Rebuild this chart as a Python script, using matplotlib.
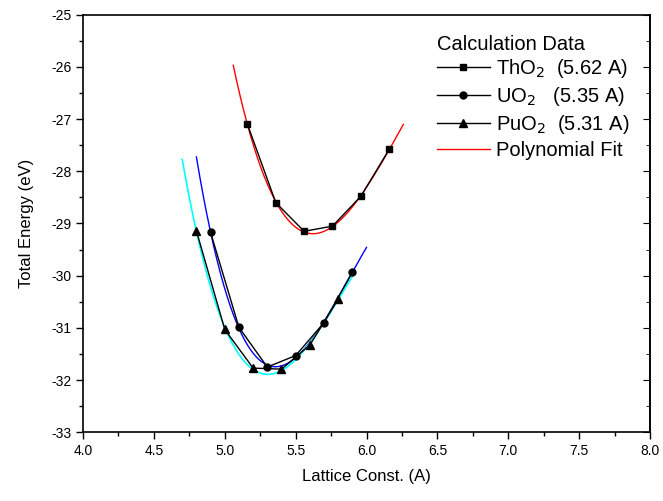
import numpy as np
import matplotlib
matplotlib.use("Agg")
import matplotlib.pyplot as plt
from matplotlib.ticker import MultipleLocator, FormatStrFormatter

plt.rcParams["font.family"] = ["Liberation Sans", "DejaVu Sans"]

# calculated points
tho2_a = [5.16, 5.36, 5.56, 5.76, 5.96, 6.16]
tho2_e = [-27.10, -28.60, -29.15, -29.05, -28.48, -27.58]
uo2_a = [4.90, 5.10, 5.30, 5.50, 5.70, 5.90]
uo2_e = [-29.17, -30.99, -31.75, -31.53, -30.90, -29.93]
puo2_a = [4.80, 5.00, 5.20, 5.40, 5.60, 5.80]
puo2_e = [-29.14, -31.03, -31.77, -31.79, -31.33, -30.45]

# x-range over which each polynomial fit is drawn
tho2_fit_range = (5.06, 6.26)
uo2_fit_range = (4.80, 6.00)
puo2_fit_range = (4.70, 5.90)

labels = [r"ThO$_2$  (5.62 A)", r"UO$_2$   (5.35 A)", r"PuO$_2$  (5.31 A)"]


def poly_curve(a, e, rng, deg=3):
    c = np.polyfit(a, e, deg)
    x = np.linspace(rng[0], rng[1], 200)
    return x, np.polyval(c, x)


fig = plt.figure(figsize=(6.63, 5.01), dpi=100)
ax = fig.add_axes([0.1252, 0.1371, 0.8552, 0.8336])

# fits underneath the data lines
x, y = poly_curve(tho2_a, tho2_e, tho2_fit_range)
fit_line, = ax.plot(x, y, color="red", lw=1.0, zorder=2)
x, y = poly_curve(uo2_a, uo2_e, uo2_fit_range)
ax.plot(x, y, color="blue", lw=1.0, zorder=2)
x, y = poly_curve(puo2_a, puo2_e, puo2_fit_range)
ax.plot(x, y, color="cyan", lw=1.2, zorder=2)

h1, = ax.plot(tho2_a, tho2_e, color="black", lw=1.0, marker="s", ms=5, zorder=3)
h2, = ax.plot(uo2_a, uo2_e, color="black", lw=1.0, marker="o", ms=5, zorder=3)
h3, = ax.plot(puo2_a, puo2_e, color="black", lw=1.0, marker="^", ms=5.5, zorder=3)

ax.set_xlim(4.0, 8.0)
ax.set_ylim(-33, -25)
ax.xaxis.set_major_locator(MultipleLocator(0.5))
ax.xaxis.set_minor_locator(MultipleLocator(0.25))
ax.yaxis.set_major_locator(MultipleLocator(1))
ax.yaxis.set_minor_locator(MultipleLocator(0.5))
ax.xaxis.set_major_formatter(FormatStrFormatter("%.1f"))
ax.yaxis.set_major_formatter(FormatStrFormatter("%d"))
ax.tick_params(which="both", direction="out", top=False, right=False,
               labelsize=10, width=1.0, color="black")
ax.tick_params(which="major", length=5)
ax.tick_params(which="minor", length=3)
for s in ax.spines.values():
    s.set_linewidth(1.2)

# right-hand inward ticks
axr = ax.secondary_yaxis("right")
axr.yaxis.set_major_locator(MultipleLocator(1))
axr.yaxis.set_minor_locator(MultipleLocator(0.5))
axr.tick_params(which="both", direction="in", labelright=False)
axr.tick_params(which="major", length=5)
axr.tick_params(which="minor", length=3)
axr.spines["right"].set_linewidth(1.2)

ax.set_xlabel("Lattice Const. (A)", fontsize=12, labelpad=8)
ax.set_ylabel("Total Energy (eV)", fontsize=12, labelpad=12)

leg = ax.legend([h1, h2, h3, fit_line], labels + ["Polynomial Fit"],
                title="Calculation Data", title_fontsize=14.5, fontsize=14.5,
                loc="upper left", bbox_to_anchor=(0.6, 0.984), frameon=False,
                handlelength=2.6, handletextpad=0.33, labelspacing=0.24,
                borderpad=0.2, alignment="left")
leg._legend_box.sep = 2

fig.savefig("out.png", dpi=100)
